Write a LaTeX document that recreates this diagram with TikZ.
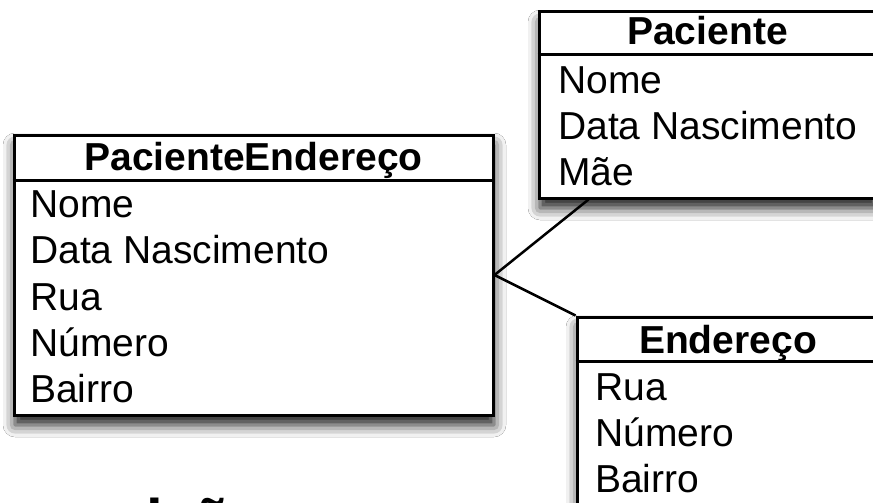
\documentclass[tikz,border=0pt]{standalone}
\usepackage{fontspec}
\setmainfont{Liberation Sans}
\usetikzlibrary{shadows.blur,calc}
\begin{document}
\begin{tikzpicture}[x=1pt,y=-1pt,
  tbox/.style={draw=black, line width=3pt, fill=white, inner sep=0pt,
    blur shadow={shadow xshift=1pt, shadow yshift=-10pt, shadow blur radius=12pt, shadow opacity=90}},
  attr/.style={anchor=base west, inner sep=0pt, font=\fontsize{39}{39}\selectfont},
  ttl/.style={anchor=base, inner sep=0pt, font=\fontsize{39}{39}\selectfont\bfseries},
  sepline/.style={line width=2.5pt},
  link/.style={line width=2.5pt}]
\useasboundingbox (0,0) rectangle (873,503);
\begin{scope}
\clip (0,0) rectangle (873,503);
\fill[white] (0,0) rectangle (873,503);

% PacienteEndereco
\node[tbox, minimum width=479pt, minimum height=280pt] (pe) at (253.5,275) {};
\draw[sepline] ($(pe.north west)+(0,47)$) -- ($(pe.north east)+(0,47)$);
\node[ttl] (pet) at (253.5,170) {PacienteEndereço};
\node[attr] (pe1) at (30,217) {Nome};
\node[attr] (pe2) at (30,263.5) {Data Nascimento};
\node[attr] (pe3) at (30,310) {Rua};
\node[attr] (pe4) at (30,356.5) {Número};
\node[attr] (pe5) at (30,402) {Bairro};

% Paciente
\node[tbox, minimum width=337pt, minimum height=186pt] (pac) at (707.5,105) {};
\draw[sepline] ($(pac.north west)+(0,44)$) -- ($(pac.north east)+(0,44)$);
\node[ttl] (pact) at (707.5,45) {Paciente};
\node[attr] (pa1) at (558,93) {Nome};
\node[attr] (pa2) at (558,139) {Data Nascimento};
\node[attr] (pa3) at (558,185) {Mãe};

% Endereco
\node[tbox, minimum width=302pt, minimum height=223pt] (end) at (728,428.5) {};
\draw[sepline] ($(end.north west)+(0,46)$) -- ($(end.north east)+(0,46)$);
\node[ttl] (endt) at (728,353) {Endereço};
\node[attr] (en1) at (595,400) {Rua};
\node[attr] (en2) at (595,446) {Número};
\node[attr] (en3) at (595,492) {Bairro};

% connectors
\coordinate (pj) at ($(pac.south west)+(51,0)$);
\draw[link] (pe.east) -- (pj);
\draw[link] (pe.east) -- (end.north west);

% cropped heading (only the tops of its tallest marks fall inside the frame)
\node[anchor=base west, inner sep=0pt, font=\fontsize{60}{60}\selectfont\bfseries] (dec) at (-160,541) {Decomposição};
\end{scope}
\end{tikzpicture}
\end{document}
